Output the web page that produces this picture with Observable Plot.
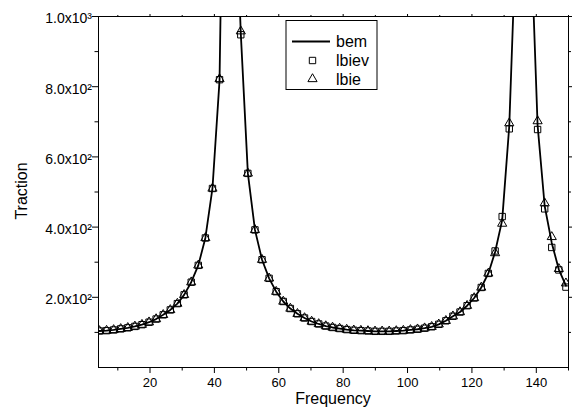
<!DOCTYPE html>
<html><head><meta charset="utf-8">
<script src="https://cdn.jsdelivr.net/npm/d3@7"></script>
<script src="https://cdn.jsdelivr.net/npm/@observablehq/plot@0.6"></script>
<style>
body{margin:0;background:#fff;}
svg{font-family:"Liberation Sans",Arial,sans-serif;}
</style>
</head><body><div id="chart"></div>
<script>
const freq = [4.3,6.5,8.7,10.9,13.1,15.3,17.5,19.7,21.9,24.1,26.3,28.5,30.6,32.8,35.0,37.2,39.4,41.6,43.8,46.0,48.2,50.4,52.6,54.8,57.0,59.2,61.4,63.6,65.8,68.0,70.2,72.4,74.6,76.7,78.9,81.1,83.3,85.5,87.7,89.9,92.1,94.3,96.5,98.7,100.9,103.1,105.3,107.5,109.7,111.9,114.1,116.3,118.5,120.7,122.9,125.1,127.2,129.4,131.6,133.8,136.0,138.2,140.4,142.6,144.8,147.0,149.2];
const bem = [104,105,107,110,113,117,122,129,138,150,164,182,207,243,291,369,510,818,2150,1500,952,553,392,307,254,216,188,168,153,141,131,124,118,114,111,108,106,105,104,103,103,103,104,105,107,109,112,116,123,133,146,158,176,198,228,268,329,420,688,1260,3000,1260,690,460,355,279,233];
const lbiev = [104,105,107,110,113,117,122,129,138,150,164,182,207,243,291,369,510,820,null,null,948,553,392,307,254,216,188,168,153,141,131,124,118,114,111,108,106,105,104,103,103,103,104,105,107,109,112,116,123,133,146,158,176,198,228,268,332,430,680,null,null,null,678,452,342,278,229];
const lbie = [104,105,107,110,113,117,122,129,138,150,164,182,207,243,291,369,510,822,null,null,958,553,392,307,254,216,188,168,153,141,131,124,118,114,111,108,106,105,104,103,103,103,104,105,107,109,112,116,123,133,146,158,176,198,228,268,326,410,696,null,null,null,702,468,372,281,240];
const seriesNames = ["bem","lbiev","lbie"];
const xTicks = [20,40,60,80,100,120,140];
const xMinor = [10,30,50,70,90,110,130,150];
const yTicks = [200,400,600,800,1000];
const yTickLabels = ["2.0x10²","4.0x10²","6.0x10²","8.0x10²","1.0x10³"];
const yMinor = [100,300,500,700,900];
const xTitle = "Frequency";
const yTitle = "Traction";

const lineData = freq.map((f,i)=>({f, v:bem[i]}));
const sqData = freq.map((f,i)=>({f, v:lbiev[i]})).filter(d=>d.v!=null);
const triData = freq.map((f,i)=>({f, v:lbie[i]})).filter(d=>d.v!=null);
const blank = () => "";

const plot = Plot.plot({
  width:574, height:411,
  marginLeft:98, marginRight:6, marginTop:16, marginBottom:44,
  x:{domain:[4,150]},
  y:{domain:[0,1000]},
  style:{fontFamily:'"Liberation Sans",Arial,sans-serif', background:"#fff", color:"#000"},
  marks:[
    Plot.line(lineData,{x:"f",y:"v",stroke:"#000",strokeWidth:1.8,clip:true}),
    Plot.dot(sqData,{x:"f",y:"v",symbol:"square",r:3.6,stroke:"#000",fill:"none",strokeWidth:1,clip:true}),
    Plot.dot(triData,{x:"f",y:"v",symbol:"triangle",r:3.4,stroke:"#000",fill:"none",strokeWidth:1,clip:true}),
    Plot.frame({stroke:"#000",strokeWidth:1}),
    Plot.axisX({ticks:xTicks,tickSize:6,tickFormat:blank,label:null}),
    Plot.axisX({ticks:xMinor,tickSize:3.5,tickFormat:blank,label:null}),
    Plot.axisX({anchor:"top",ticks:xTicks,tickSize:3,tickFormat:blank,label:null}),
    Plot.axisX({anchor:"top",ticks:xMinor,tickSize:2,tickFormat:blank,label:null}),
    Plot.axisY({ticks:yTicks,tickSize:6,tickFormat:blank,label:null}),
    Plot.axisY({ticks:yMinor,tickSize:3.5,tickFormat:blank,label:null}),
    Plot.axisY({anchor:"right",ticks:yTicks,tickSize:3,tickFormat:blank,label:null}),
    Plot.axisY({anchor:"right",ticks:yMinor,tickSize:2,tickFormat:blank,label:null}),
    Plot.text(xTicks,{x:d=>d,frameAnchor:"bottom",dy:15,lineAnchor:"middle",text:d=>String(d),fontSize:13,fill:"#000"}),
    Plot.text(yTicks,{y:d=>d,frameAnchor:"left",dx:-6.5,dy:2.5,textAnchor:"end",lineAnchor:"middle",text:(d,i)=>yTickLabels[i],fontSize:14,fill:"#000"})
  ]
});
document.getElementById("chart").appendChild(plot);

const svg = d3.select(plot);
svg.append("text").attr("x",333).attr("y",403.5).attr("text-anchor","middle")
  .attr("font-size",16).attr("fill","#000").text(xTitle);
svg.append("text").attr("transform","translate(27,191) rotate(-90)").attr("text-anchor","middle")
  .attr("font-size",16).attr("fill","#000").text(yTitle);

const lg = svg.append("g");
lg.append("rect").attr("x",286).attr("y",20.5).attr("width",91).attr("height",69)
  .attr("fill","#fff").attr("stroke","#000").attr("stroke-width",1);
const rows = [41.5,60.5,79];
lg.append("line").attr("x1",292).attr("x2",330).attr("y1",rows[0]).attr("y2",rows[0])
  .attr("stroke","#000").attr("stroke-width",1.8);
lg.append("path").attr("transform",`translate(312.5,${rows[1]})`)
  .attr("d",d3.symbol(d3.symbolSquare, Math.PI*3.6*3.6)()).attr("fill","none").attr("stroke","#000");
lg.append("path").attr("transform",`translate(312.5,${rows[2]})`)
  .attr("d",d3.symbol(d3.symbolTriangle, Math.PI*3.4*3.4)()).attr("fill","none").attr("stroke","#000");
seriesNames.forEach((n,i)=>{
  lg.append("text").attr("x",336).attr("y",rows[i]).attr("dy","0.35em").attr("text-anchor","start")
    .attr("font-size",16).attr("fill","#000").text(n);
});
</script>
</body></html>
